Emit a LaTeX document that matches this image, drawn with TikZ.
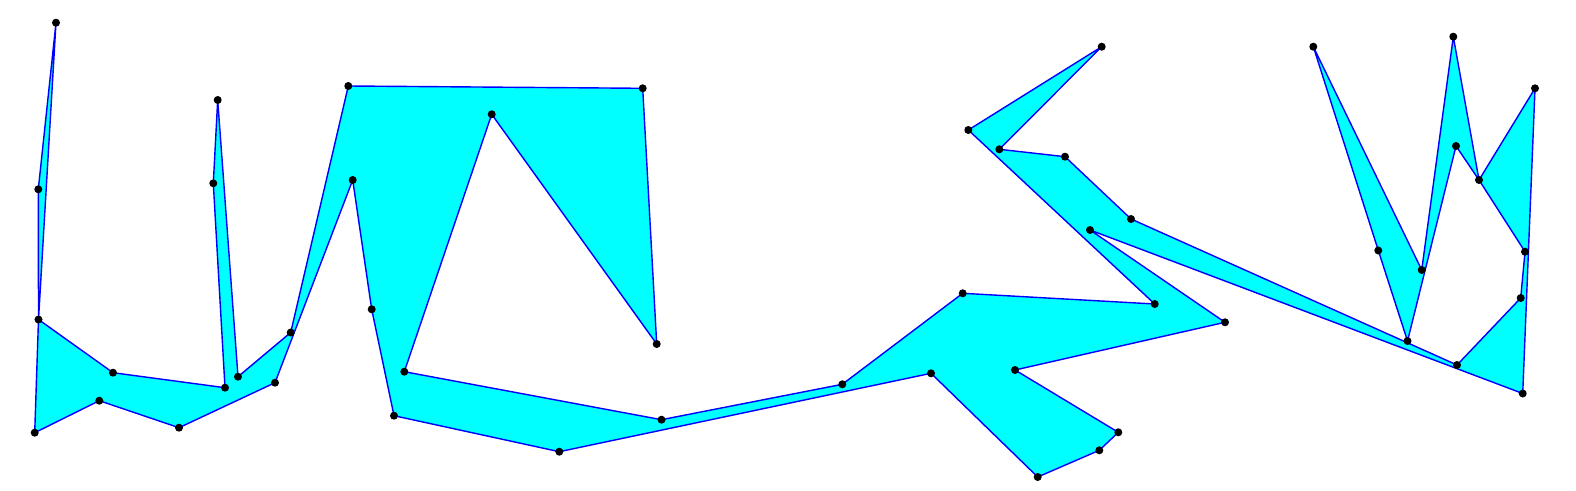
\documentclass[tikz,border=0pt]{standalone}
\usepackage{tikz}
\usetikzlibrary{backgrounds}
\definecolor{aqua}{RGB}{0,255,255}

\begin{document}
\begin{tikzpicture}[x=0.01cm, y=-0.01cm,
    vertex/.style={circle, fill=black, inner sep=0pt, minimum size=0.08cm},
    region/.style={fill=aqua, draw=blue, line width=0.4pt, line join=round}]
        \useasboundingbox (0,0) rectangle (1576,491);
        % Vertices
        \node[vertex] (1) at (56, 22.7) {};
        \node[vertex] (2) at (38.3, 189.3) {};
        \node[vertex] (3) at (38.5, 319.5) {};
        \node[vertex] (4) at (34.7, 432.7) {};
        \node[vertex] (5) at (99.3, 400.7) {};
        \node[vertex] (6) at (179, 427.7) {};
        \node[vertex] (7) at (275, 382.7) {};
        \node[vertex] (8) at (352.7, 180) {};
        \node[vertex] (9) at (371.7, 309.3) {};
        \node[vertex] (10) at (394, 415.7) {};
        \node[vertex] (11) at (559.3, 451.7) {};
        \node[vertex] (12) at (931, 373.3) {};
        \node[vertex] (13) at (1037.7, 477) {};
        \node[vertex] (14) at (1099.3, 450.3) {};
        \node[vertex] (15) at (1118.3, 432.3) {};
        \node[vertex] (16) at (1015, 370) {};
        \node[vertex] (17) at (1225, 322.3) {};
        \node[vertex] (18) at (1090, 230) {};
        \node[vertex] (19) at (1522.7, 393.5) {};
        \node[vertex] (20) at (1535, 88.3) {};
        \node[vertex] (21) at (1479, 180) {};
        \node[vertex] (22) at (1456, 146) {};
        \node[vertex] (23) at (1407.5, 341) {};
        \node[vertex] (24) at (1378.3, 250.5) {};
        \node[vertex] (25) at (1313.3, 46.7) {};
        \node[vertex] (26) at (1421.7, 270) {};
        \node[vertex] (27) at (1453.3, 36.7) {};
        \node[vertex] (28) at (1525, 251.7) {};
        \node[vertex] (29) at (1520.7, 298) {};
        \node[vertex] (30) at (1457, 365) {};
        \node[vertex] (31) at (1131, 219) {};
        \node[vertex] (32) at (1065, 156.7) {};
        \node[vertex] (33) at (999.3, 149.3) {};
        \node[vertex] (34) at (1101.7, 46.7) {};
        \node[vertex] (35) at (968.3, 130) {};
        \node[vertex] (36) at (1154.7, 304) {};
        \node[vertex] (37) at (962.7, 293.3) {};
        \node[vertex] (38) at (842.3, 384.3) {};
        \node[vertex] (39) at (661.5, 419.7) {};
        \node[vertex] (40) at (404.3, 371.7) {};
        \node[vertex] (41) at (491.7, 114.3) {};
        \node[vertex] (42) at (656.7, 344) {};
        \node[vertex] (43) at (642.7, 88.3) {};
        \node[vertex] (44) at (348.3, 86) {};
        \node[vertex] (45) at (290.7, 332.5) {};
        \node[vertex] (46) at (238, 376.7) {};
        \node[vertex] (47) at (217.7, 100) {};
        \node[vertex] (48) at (213.3, 183.3) {};
        \node[vertex] (49) at (225, 387.7) {};
        \node[vertex] (50) at (113, 372.7) {};

        % Polygon
        \begin{scope}[on background layer]
        \filldraw[region] (1.center) -- (2.center) -- (3.center) -- (4.center) -- (5.center)
            -- (6.center) -- (7.center) -- (8.center) -- (9.center) -- (10.center)
            -- (11.center) -- (12.center) -- (13.center) -- (14.center) -- (15.center)
            -- (16.center) -- (17.center) -- (18.center) -- (19.center) -- (20.center)
            -- (21.center) -- (22.center) -- (23.center) -- (24.center) -- (25.center)
            -- (26.center) -- (27.center) -- (21.center) -- (28.center) -- (29.center)
            -- (30.center) -- (31.center) -- (32.center) -- (33.center) -- (34.center)
            -- (35.center) -- (36.center) -- (37.center) -- (38.center) -- (39.center)
            -- (40.center) -- (41.center) -- (42.center) -- (43.center) -- (44.center)
            -- (45.center) -- (46.center) -- (47.center) -- (48.center) -- (49.center)
            -- (50.center) -- (3.center) -- cycle;
        \end{scope}
    \end{tikzpicture}
\end{document}
